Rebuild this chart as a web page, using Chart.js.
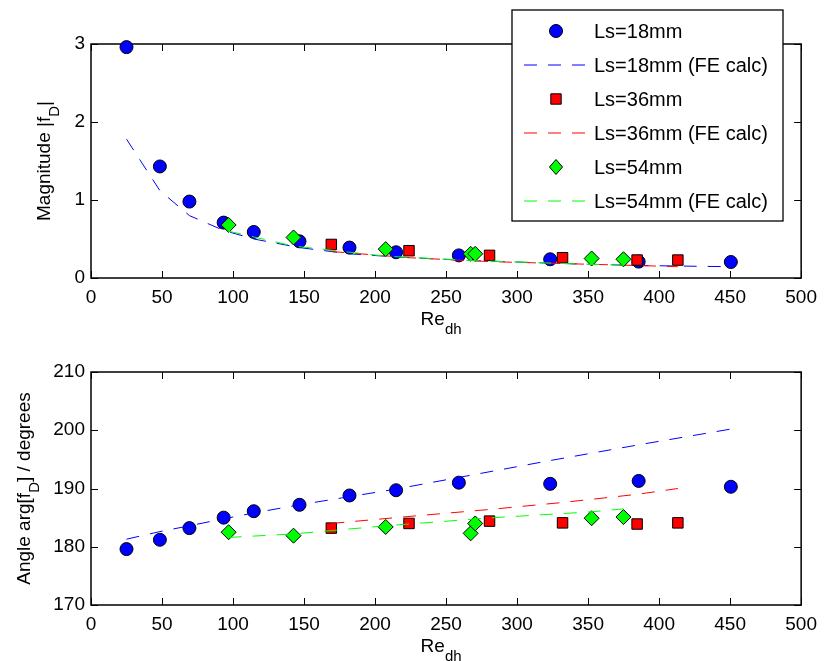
<!DOCTYPE html>
<html>
<head>
<meta charset="utf-8">
<script src="https://cdn.jsdelivr.net/npm/chart.js@4.4.0/dist/chart.umd.min.js"></script>
<style>
  html, body { margin: 0; padding: 0; background: #fff; }
  #wrap { position: relative; width: 825px; height: 661px; }
  #magChart { position: absolute; left: 0; top: 0; }
  #angChart { position: absolute; left: 0; top: 330px; }
</style>
</head>
<body>
<div id="wrap">
  <canvas id="magChart" width="825" height="345"></canvas>
  <canvas id="angChart" width="825" height="331"></canvas>
</div>
<script>
// Re_dh values for each spacing
const re18 = [25, 48.5, 69.3, 93.4, 114.6, 146.8, 182, 214.8, 259, 323.3, 385.6, 450.5];
const re36 = [169.2, 223.9, 280.6, 332, 384.5, 413.2];
const re54 = [96.9, 142.6, 207.5, 267.3, 270.5, 352.5, 374.9];

// magnitude |fD|
const mag18 = [2.96, 1.43, 0.98, 0.71, 0.59, 0.47, 0.39, 0.33, 0.29, 0.24, 0.21, 0.205];
const magFe18 = [1.78, 1.12, 0.80, 0.61, 0.50, 0.39, 0.31, 0.27, 0.23, 0.19, 0.16, 0.145];
const mag36 = [0.43, 0.35, 0.29, 0.26, 0.23, 0.23];
const magFe36 = [0.34, 0.26, 0.21, 0.185, 0.16, 0.145];
const mag54 = [0.68, 0.52, 0.37, 0.31, 0.31, 0.25, 0.24];
const magFe54 = [0.60, 0.41, 0.28, 0.225, 0.222, 0.175, 0.165];

// angle arg[fD] in degrees
const ang18 = [179.6, 181.2, 183.2, 185.0, 186.1, 187.2, 188.8, 189.7, 191.0, 190.8, 191.3, 190.3];
const angFe18 = [181.3, 182.6, 183.6, 184.8, 185.8, 187.2, 188.6, 189.9, 191.9, 194.8, 197.5, 200.2];
const ang36 = [183.2, 184.0, 184.4, 184.1, 183.9, 184.1];
const angFe36 = [184.0, 185.2, 186.4, 187.6, 189.0, 190.0];
const ang54 = [182.5, 181.9, 183.4, 182.3, 184.0, 184.9, 185.1];
const angFe54 = [181.6, 182.2, 183.6, 184.7, 184.8, 186.0, 186.5];

const labels = ["Ls=18mm", "Ls=18mm (FE calc)", "Ls=36mm", "Ls=36mm (FE calc)", "Ls=54mm", "Ls=54mm (FE calc)"];
const xTicks = [0, 50, 100, 150, 200, 250, 300, 350, 400, 450, 500];

const FONT = '"Liberation Sans", Arial, Helvetica, sans-serif';
const BLUE = "#0000ff", RED = "#ff0000", GREEN = "#00ff00";

// what the legend draws for each row
const legendMarks = ["circle", "line", "rect", "line", "rectRot", "line"];
const legendColors = [BLUE, BLUE, RED, RED, GREEN, GREEN];

function pts(xs, ys) {
  return xs.map((x, i) => ({ x: x, y: ys[i] }));
}

function markers(label, xs, ys, color, style, r, order) {
  return {
    label: label, data: pts(xs, ys), showLine: false,
    pointStyle: style, pointRadius: r, pointHoverRadius: r,
    pointBackgroundColor: color, pointBorderColor: "#000", pointBorderWidth: 1,
    clip: false, order: order,
  };
}

function dashed(label, xs, ys, color, order) {
  return {
    label: label, data: pts(xs, ys), showLine: true,
    borderColor: color, borderWidth: 1, borderDash: [13, 11],
    pointRadius: 0, tension: 0, fill: false,
    clip: false, order: order,
  };
}

// box and inward ticks, MATLAB style
const frame = {
  id: "frame",
  beforeDatasetsDraw(chart) {
    const { ctx, chartArea: a, scales } = chart;
    ctx.save();
    ctx.strokeStyle = "#000";
    ctx.lineWidth = 1.5;
    ctx.strokeRect(a.left, a.top, a.right - a.left, a.bottom - a.top);
    ctx.lineWidth = 1;
    ctx.beginPath();
    scales.x.ticks.forEach(t => {
      const px = Math.round(scales.x.getPixelForValue(t.value)) + 0.5;
      ctx.moveTo(px, a.bottom); ctx.lineTo(px, a.bottom - 7);
      ctx.moveTo(px, a.top); ctx.lineTo(px, a.top + 7);
    });
    scales.y.ticks.forEach(t => {
      const py = Math.round(scales.y.getPixelForValue(t.value)) + 0.5;
      ctx.moveTo(a.left, py); ctx.lineTo(a.left + 7, py);
      ctx.moveTo(a.right, py); ctx.lineTo(a.right - 7, py);
    });
    ctx.stroke();
    ctx.restore();
  },
};

// text with subscripts: parts = [[text, isSub], ...]
function partsWidth(ctx, parts) {
  let w = 0;
  parts.forEach(p => {
    ctx.font = (p[1] ? 15 : 19) + "px " + FONT;
    w += ctx.measureText(p[0]).width;
  });
  return w;
}
function drawParts(ctx, parts, x, y) {
  parts.forEach(p => {
    ctx.font = (p[1] ? 15 : 19) + "px " + FONT;
    ctx.fillText(p[0], x, y + (p[1] ? 9 : 0));
    x += ctx.measureText(p[0]).width;
  });
}

const titles = {
  id: "titles",
  afterDraw(chart, args, opts) {
    const { ctx, chartArea: a } = chart;
    ctx.save();
    ctx.fillStyle = "#000";
    ctx.textBaseline = "alphabetic";
    ctx.textAlign = "left";
    const xp = [["Re", false], ["dh", true]];
    const wx = partsWidth(ctx, xp);
    drawParts(ctx, xp, (a.left + a.right) / 2 - 5 - wx / 2, a.bottom + 47);
    const yp = opts.yParts;
    const wy = partsWidth(ctx, yp);
    ctx.translate(opts.yBase, (a.top + a.bottom) / 2);
    ctx.rotate(-Math.PI / 2);
    drawParts(ctx, yp, -wy / 2, 0);
    ctx.restore();
  },
};

function drawMark(ctx, mark, color, x, y) {
  ctx.fillStyle = color;
  ctx.strokeStyle = "#000";
  ctx.lineWidth = 1;
  ctx.beginPath();
  if (mark === "circle") {
    ctx.arc(x, y, 6.5, 0, Math.PI * 2);
  } else if (mark === "rect") {
    ctx.rect(x - 5.2, y - 5.2, 10.4, 10.4);
  } else {
    ctx.moveTo(x, y - 7.5); ctx.lineTo(x + 6.5, y);
    ctx.lineTo(x, y + 7.5); ctx.lineTo(x - 6.5, y);
    ctx.closePath();
  }
  ctx.fill();
  ctx.stroke();
}

const boxLegend = {
  id: "boxLegend",
  afterDraw(chart) {
    const ctx = chart.ctx;
    const L = 512, T = 10, R = 783, B = 221;
    ctx.save();
    ctx.fillStyle = "#fff";
    ctx.fillRect(L, T, R - L, B - T);
    ctx.strokeStyle = "#000";
    ctx.lineWidth = 1.3;
    ctx.strokeRect(L, T, R - L, B - T);
    chart.data.datasets.forEach((ds, i) => {
      const cy = 31 + i * 34;
      const col = legendColors[i];
      if (legendMarks[i] === "line") {
        ctx.save();
        ctx.strokeStyle = col;
        ctx.lineWidth = 1.2;
        ctx.setLineDash([13, 11]);
        ctx.beginPath();
        ctx.moveTo(524, cy);
        ctx.lineTo(586, cy);
        ctx.stroke();
        ctx.restore();
      } else {
        drawMark(ctx, legendMarks[i], col, 556, cy);
      }
      ctx.fillStyle = "#000";
      ctx.font = "20px " + FONT;
      ctx.textBaseline = "middle";
      ctx.textAlign = "left";
      ctx.fillText(ds.label, 594, cy + 1);
    });
    ctx.restore();
  },
};

function makeChart(id, sets, yMin, yMax, yStep, padTop, xHeight, titleOpts, extra) {
  return new Chart(document.getElementById(id), {
    type: "scatter",
    data: { datasets: sets },
    options: {
      responsive: false,
      animation: false,
      events: [],
      layout: { padding: { top: padTop, right: 20, left: 0, bottom: 0 } },
      plugins: {
        legend: { display: false },
        tooltip: { enabled: false },
        titles: titleOpts,
      },
      scales: {
        x: {
          type: "linear", min: 0, max: 500,
          grid: { display: false, drawTicks: false },
          border: { display: false },
          afterBuildTicks(s) { s.ticks = xTicks.map(v => ({ value: v })); },
          ticks: { color: "#000", font: { family: FONT, size: 19 }, padding: 8, maxRotation: 0, autoSkip: false },
          afterFit(s) { s.height = xHeight; },
        },
        y: {
          type: "linear", min: yMin, max: yMax,
          grid: { display: false, drawTicks: false },
          border: { display: false },
          ticks: { stepSize: yStep, color: "#000", font: { family: FONT, size: 19 }, padding: 6 },
          afterFit(s) { s.width = 91; },
        },
      },
    },
    plugins: [frame, titles].concat(extra),
  });
}

const magSets = [
  markers(labels[0], re18, mag18, BLUE, "circle", 6.5, 6),
  dashed(labels[1], re18, magFe18, BLUE, 5),
  markers(labels[2], re36, mag36, RED, "rect", 7.4, 4),
  dashed(labels[3], re36, magFe36, RED, 3),
  markers(labels[4], re54, mag54, GREEN, "rectRot", 7.5, 2),
  dashed(labels[5], re54, magFe54, GREEN, 1),
];

const angSets = [
  markers(labels[0], re18, ang18, BLUE, "circle", 6.5, 6),
  dashed(labels[1], re18, angFe18, BLUE, 5),
  markers(labels[2], re36, ang36, RED, "rect", 7.4, 4),
  dashed(labels[3], re36, angFe36, RED, 3),
  markers(labels[4], re54, ang54, GREEN, "rectRot", 7.5, 2),
  dashed(labels[5], re54, angFe54, GREEN, 1),
];

makeChart("magChart", magSets, 0, 3, 1, 44, 345 - 278,
  { yBase: 50, yParts: [["Magnitude |f", false], ["D", true], ["|", false]] }, [boxLegend]);

makeChart("angChart", angSets, 170, 210, 10, 42, 331 - 275,
  { yBase: 30, yParts: [["Angle arg[f", false], ["D", true], ["] / degrees", false]] }, []);
</script>
</body>
</html>
